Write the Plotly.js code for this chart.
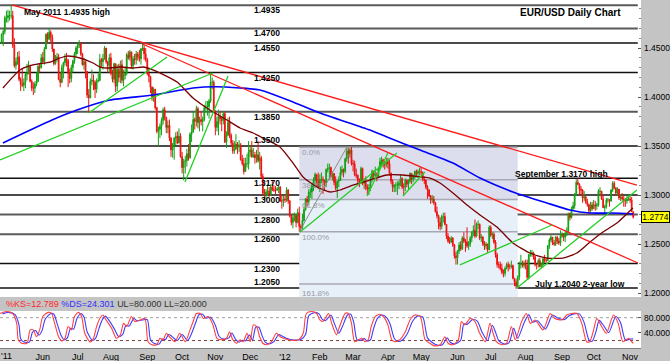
<!DOCTYPE html>
<html><head><meta charset="utf-8">
<script src="https://cdn.plot.ly/plotly-3.0.1.min.js"></script>
<style>html,body{margin:0;padding:0;background:#c4c4c4;overflow:hidden}#chart{width:670px;height:361px}</style>
</head><body><div id="chart"></div>
<script>
// ---- daily EUR/USD candles, Apr 26 2011 .. Nov 5 2012 (weekday index, 0 = May 2 2011); prices in 1/10000
const firstDayIndex = -4;
const firstOpen = 14560;
const closeP = [
14640,14670,14810,14810,
14830,14830,14830,14530,14320,14360,14410,14180,14130,14120,14150,14230,14240,14310,14160,14090,14090,14130,14160,14310,14300,14400,
14360,14490,14640,14590,14660,14610,14490,14340,14390,14410,14180,14150,14300,14350,14390,14370,14240,14190,14300,14370,14440,14500,
14530,14540,14440,14330,14360,14260,14020,13990,14160,14170,14150,14080,14160,14170,14380,14360,14390,14500,14360,14320,14400,
14240,14180,14340,14110,14280,14200,14330,14170,14220,14240,14430,14400,14460,14320,14390,14380,14440,14410,14390,14490,14500,14440,14380,
14240,14210,14100,14000,14080,13890,13650,13670,13700,13760,13870,13790,13690,13710,13580,13460,13500,13580,13600,13530,13600,13390,
13280,13340,13350,13420,13380,13620,13640,13770,13750,13880,13740,13770,13750,13770,13890,13900,13900,13960,14150,14150,13860,
13690,13750,13800,13780,13760,13830,13540,13610,13740,13610,13530,13450,13470,13520,13490,13510,13360,13320,13240,13320,13320,13440,
13460,13390,13410,13380,13410,13350,13380,13190,13020,13000,13030,13040,13010,13080,13050,13050,13050,13060,13080,12940,12940,12960,
12950,13050,12940,12790,12720,12770,12790,12720,12820,12680,12670,12740,12850,12960,12930,13030,13030,13100,13150,13210,13140,13080,
13160,13160,13150,13120,13260,13270,13280,13190,13220,13130,13070,13140,13150,13230,13260,13240,13370,13450,13420,13460,13320,
13320,13210,13200,13140,13140,13270,13120,13140,13080,13060,13070,13170,13240,13200,13210,13190,13270,13340,13360,13310,13310,13340,
13320,13220,13140,13080,13100,13100,13100,13120,13170,13080,13080,13150,13110,13140,13220,13160,13180,13240,13220,13240,13240,
13230,13160,13150,13080,13050,12990,12950,12960,12920,12830,12790,12720,12680,12780,12780,12700,12580,12530,12520,12560,12490,12380,12360,
12430,12490,12450,12560,12530,12520,12480,12500,12560,12620,12640,12580,12700,12700,12560,12570,12500,12480,12500,12440,12670,
12590,12600,12520,12390,12290,12290,12250,12210,12200,12250,12290,12270,12270,12280,12150,12110,12070,12160,12290,12300,12280,12300,
12280,12160,12390,12400,12410,12370,12290,12290,12330,12270,12290,12350,12330,12330,12480,12540,12570,12510,12500,12570,12530,12510,12580,
12600,12570,12610,12630,12810,12770,12860,12890,13010,13130,13110,13060,13050,12970,12980,12930,12900,12840,12900,12860,
12900,12890,12900,13040,13040,12960,12870,12880,12950,12950,12940,13050,13120,13070,13020,13060,12970,12980,12960,12940,12940,12960,12960,
12950,12830,12774];
const highP = [
14650,14690,14830,14880,
14890,14880,14940,14880,14600,14400,14460,14470,14200,14290,14190,14250,14340,14370,14330,14180,14150,14160,14250,14340,14340,14440,
14460,14510,14650,14660,14700,14680,14640,14490,14430,14450,14440,14250,14330,14360,14440,14450,14390,14290,14330,14380,14460,14520,
14540,14580,14560,14450,14400,14370,14230,14080,14190,14280,14230,14170,14190,14240,14440,14400,14440,14520,14500,14370,14440,
14450,14280,14350,14340,14330,14340,14370,14380,14280,14300,14450,14470,14480,14460,14420,14440,14470,14460,14480,14500,14550,14530,14500,
14400,14300,14150,14110,14100,14080,13900,13700,13730,13790,13890,13900,13800,13760,13770,13590,13530,13590,13640,13650,13680,13630,
13440,13370,13400,13470,13520,13640,13720,13850,13790,13910,13900,13800,13850,13800,13920,13960,13960,13980,14250,14200,14170,
13860,13800,13870,13850,13800,13850,13850,13650,13790,13800,13630,13560,13550,13620,13540,13560,13530,13410,13380,13380,13420,13550,
13500,13550,13480,13440,13460,13550,13440,13400,13220,13060,13060,13110,13080,13110,13150,13100,13090,13080,13100,13090,12990,13000,
13010,13080,13060,12950,12800,12810,12820,12800,12860,12880,12700,12810,12880,12970,12990,13060,13070,13120,13180,13230,13210,13230,
13210,13230,13190,13150,13270,13320,13320,13290,13240,13220,13190,13150,13190,13290,13300,13270,13380,13480,13480,13480,13490,
13360,13350,13270,13210,13170,13290,13280,13170,13190,13110,13110,13190,13260,13250,13290,13230,13290,13380,13390,13370,13350,13380,
13380,13360,13230,13160,13110,13130,13140,13150,13210,13180,13120,13170,13160,13160,13230,13220,13210,13250,13260,13260,13280,
13280,13240,13190,13160,13100,13060,13000,13000,12990,12930,12880,12800,12770,12800,12820,12820,12700,12610,12570,12580,12570,12500,12420,
12440,12520,12530,12580,12620,12550,12670,12530,12580,12630,12690,12750,12720,12740,12710,12600,12580,12530,12520,12500,12690,
12690,12620,12620,12540,12410,12320,12320,12300,12240,12270,12310,12320,12300,12330,12290,12150,12140,12180,12320,12390,12330,12330,
12340,12340,12400,12440,12440,12420,12380,12300,12350,12360,12310,12360,12390,12360,12490,12560,12590,12560,12540,12580,12580,12560,12640,
12620,12610,12640,12670,12820,12820,12880,12930,13020,13160,13170,13120,13090,13060,13040,12990,12960,12910,12930,12930,
12950,12940,12920,13060,13080,13040,12990,12900,12970,12970,12960,13060,13140,13140,13080,13080,13060,13010,13020,12990,12970,13000,13000,
12990,12980,12830];
const lowP = [
14540,14520,14640,14760,
14760,14780,14800,14500,14300,14280,14330,14160,14060,14100,14060,14090,14170,14230,14150,14060,14020,14040,14110,14150,14250,14290,
14350,14330,14490,14550,14580,14560,14460,14320,14330,14360,14170,14100,14140,14190,14320,14310,14100,14140,14150,14250,14340,14410,
14440,14500,14420,14320,14280,14190,13990,13840,13990,14120,14070,13990,14040,14150,14160,14300,14280,14380,14340,14250,14250,
14220,14150,14140,14050,14060,14150,14140,14140,14110,14180,14220,14380,14370,14290,14280,14330,14330,14370,14360,14330,14470,14380,14360,
14220,14150,14040,13960,13950,13870,13630,13500,13580,13610,13720,13760,13630,13630,13550,13390,13380,13360,13510,13520,13530,13380,
13220,13150,13220,13290,13350,13370,13540,13640,13670,13700,13680,13650,13710,13650,13750,13860,13810,13780,13940,14080,13850,
13610,13650,13610,13720,13650,13720,13530,13480,13600,13580,13500,13420,13420,13460,13420,13440,13350,13300,13210,13250,13280,13260,
13390,13380,13380,13320,13330,13330,13260,13170,13000,12950,12950,12990,12980,12990,13040,13030,13010,13040,13020,12930,12860,12880,
12920,12930,12910,12770,12690,12660,12730,12670,12710,12624,12630,12650,12730,12840,12880,12900,12970,12960,13040,13070,13080,13060,
13030,13120,13010,13040,13080,13230,13160,13170,13150,13100,13050,12970,13080,13170,13200,13180,13220,13340,13320,13380,13300,
13240,13190,13170,13100,13080,13110,13100,13060,13050,13000,13000,13040,13130,13160,13180,13140,13190,13260,13310,13280,13260,13280,
13270,13200,13110,13030,13030,13030,13000,13060,13090,13060,13000,13040,13080,13060,13120,13110,13130,13160,13180,13170,13200,
13180,13140,13110,13060,12960,12980,12910,12920,12900,12820,12760,12650,12640,12650,12720,12690,12550,12510,12500,12510,12470,12350,12290,
12290,12400,12430,12440,12510,12420,12460,12440,12470,12520,12580,12560,12570,12650,12540,12520,12480,12440,12450,12410,12440,
12570,12550,12500,12360,12260,12250,12230,12190,12160,12170,12240,12220,12240,12250,12140,12070,12042,12050,12130,12250,12260,12250,
12240,12140,12140,12370,12370,12340,12270,12240,12260,12260,12250,12260,12310,12310,12330,12450,12520,12490,12480,12480,12500,12490,12480,
12560,12530,12520,12580,12620,12740,12760,12840,12860,12990,13100,13000,13000,12920,12940,12910,12880,12800,12820,12840,
12860,12840,12850,12880,13010,12950,12870,12800,12860,12920,12880,12930,13030,13060,12990,12990,12950,12940,12940,12880,12880,12910,12940,
12920,12830,12760];

// moving averages: [day index, price]
const ma200 = [[-3.2,1.3531],[27.8,1.3765],[43.6,1.3867],[64.4,1.3969],[91.6,1.4020],[116.9,1.4092],[131,1.4105],[146.6,1.4092],[159.2,1.4071],[180,1.3949],[197.1,1.3837],[228.7,1.3663],[239.4,1.3592],[260.3,1.3459],[281.1,1.3327],[298.2,1.3173],[319,1.3031],[340.5,1.2918],[355,1.2847],[367.7,1.2816],[382.2,1.2816],[394.8,1.2806]];
const ma55 = [[-3.2,1.4092],[7.6,1.4276],[15.8,1.4327],[26.5,1.4357],[32.8,1.4398],[37.3,1.4418],[45.5,1.4398],[53.7,1.4347],[58.1,1.4306],[64.4,1.4296],[70.7,1.4306],[79,1.4296],[85.3,1.4306],[91.6,1.4276],[96,1.4245],[106.8,1.4153],[116.9,1.3990],[127.6,1.3867],[138.3,1.3765],[146.6,1.3684],[154.8,1.3633],[163.6,1.3561],[171.8,1.3490],[180,1.3327],[186.4,1.3184],[195.2,1.3082],[203.4,1.3031],[209.7,1.3051],[217.9,1.3102],[228.7,1.3153],[239.4,1.3204],[249.5,1.3204],[260.3,1.3184],[266.6,1.3173],[272.9,1.3122],[281.1,1.3020],[290,1.2898],[298.2,1.2796],[308.9,1.2673],[319,1.2510],[329.8,1.2408],[340.5,1.2357],[350.6,1.2357],[359.4,1.2408],[367.7,1.2520],[375.9,1.2622],[384.7,1.2714],[394.8,1.2867]];

// horizontal support / resistance levels
const levels = [1.4935,1.4700,1.4550,1.4250,1.3850,1.3500,1.3170,1.3000,1.2800,1.2600,1.2300,1.2050];
const grayLevels = [1.4935,1.4700,1.3850,1.2800,1.2600];
const labelAboveLevels = [1.3500,1.2050];

// trend lines: [[day, price],[day, price]]
const redLines = [[[2.5,1.4939],[397.3,1.3102]], [[85,1.4541],[398,1.2306]]];
const greenLines = [
 [[51,1.3837],[100.5,1.4408]],
 [[-5,1.3357],[129.5,1.4245]],
 [[111.8,1.3133],[139,1.4214]],
 [[184.5,1.2622],[245.7,1.3429]],
 [[226.8,1.2990],[240,1.3429]],
 [[249.5,1.2990],[263.4,1.3235]],
 [[285.5,1.2286],[343.7,1.2694]],
 [[321.5,1.2051],[397.3,1.3051]]
];

// Fibonacci retracement (Jan 2012 low -> Feb 2012 high)
const fibLow = 1.2624, fibHigh = 1.3486, fibStart = 184, fibEnd = 322;
const fibRatios = [0, 0.382, 0.618, 1.0, 1.618];
const fibLabels = ['0.0%','38.2%','61.8%','100.0%','161.8%'];

// slow stochastic: [day, value]
const stochK = [[-5,91],[-1,96],[3,91],[5.5,65],[6.5,22],[8.5,13],[12,13],[14,48],[16,48],[18,30],[20,48],[22,83],[25.5,94],[27.5,91],[29.5,65],[32,30],[34,19],[36,26],[38,57],[40,48],[42,83],[44.5,94],[46.5,83],[48.5,39],[52,16],[54,26],[56,57],[58,78],[60,87],[62,74],[65.5,52],[68.5,26],[71,35],[73,65],[75,57],[78,83],[80,70],[83.5,74],[86.5,78],[88.5,17],[91,9],[94,9],[96,26],[98,22],[100,39],[102,30],[105.5,17],[108.5,39],[112,17],[115,48],[117,70],[119,91],[121.5,91],[123.5,78],[126.5,83],[129.5,61],[132,26],[135,22],[138,26],[140,43],[142,22],[144.5,13],[146.5,22],[148.5,17],[151,39],[153,17],[155,61],[157,57],[159,30],[161,13],[163.5,9],[166.5,17],[169.5,39],[172,30],[174,26],[177,22],[183.5,22],[186.5,39],[188.5,91],[192,96],[195,91],[197,74],[199,70],[202.5,91],[204.5,65],[207.5,35],[209.5,57],[213,91],[215,91],[217,65],[219,17],[221.5,22],[223.5,26],[225.5,17],[227.5,22],[229.5,57],[232,83],[235,89],[238,78],[240,61],[242.5,22],[244.5,17],[247.5,22],[251,43],[254,74],[257,87],[260.5,83],[263.5,22],[266.5,13],[269.5,6],[273,9],[276,30],[278,13],[281,9],[284.5,22],[286.5,70],[288.5,61],[292,78],[295,70],[298,39],[301.5,17],[304.5,65],[306.5,39],[308.5,17],[312,9],[315,13],[318,57],[320.5,22],[324.5,70],[327.5,91],[330,65],[333,74],[338,48],[342.5,91],[345.5,78],[350,74],[353,87],[356,91],[359.5,91],[362.5,65],[365.5,17],[367.5,17],[370,48],[372,78],[375,57],[378,39],[382.5,87],[385.5,65],[388.5,17],[392,26],[394,17],[395,12.8]];
const stochD = [[-3.5,90],[0.5,94],[4.5,88],[7,60],[8,25],[10,16],[13.5,16],[15.5,42],[17.5,46],[19.5,34],[21.5,46],[23.5,76],[27,91],[29,89],[31,65],[33.5,34],[35.5,22],[37.5,27],[39.5,52],[41.5,50],[43.5,77],[46,91],[48,82],[50,43],[53.5,20],[55.5,27],[57.5,52],[59.5,74],[61.5,84],[63.5,75],[67,52],[70,30],[72.5,36],[74.5,60],[76.5,58],[79.5,78],[81.5,72],[85,74],[88,75],[90,22],[92.5,12],[95.5,11],[97.5,24],[99.5,23],[101.5,36],[103.5,31],[107,20],[110,36],[113.5,20],[116.5,44],[118.5,66],[120.5,87],[123,89],[125,79],[128,81],[131,60],[133.5,30],[136.5,24],[139.5,27],[141.5,40],[143.5,25],[146,16],[148,21],[150,19],[152.5,35],[154.5,21],[156.5,55],[158.5,55],[160.5,33],[162.5,16],[165,11],[168,17],[171,36],[173.5,31],[175.5,27],[178.5,23],[185,23],[188,36],[190,85],[193.5,93],[196.5,90],[198.5,76],[200.5,72],[204,87],[206,67],[209,39],[211,54],[214.5,87],[216.5,89],[218.5,66],[220.5,22],[223,21],[225,25],[227,19],[229,22],[231,52],[233.5,79],[236.5,87],[239.5,79],[241.5,62],[244,26],[246,18],[249,21],[252.5,40],[255.5,70],[258.5,84],[262,82],[265,27],[268,15],[271,8],[274.5,9],[277.5,27],[279.5,15],[282.5,11],[286,21],[288,64],[290,62],[293.5,75],[296.5,71],[299.5,42],[303,20],[306,60],[308,42],[310,20],[313.5,11],[316.5,14],[319.5,52],[322,26],[326,66],[329,88],[331.5,68],[334.5,72],[339.5,50],[344,87],[347,80],[351.5,75],[354.5,85],[357.5,90],[361,90],[364,67],[367,22],[369,18],[371.5,44],[373.5,73],[376.5,58],[379.5,41],[384,83],[387,67],[390,22],[393.5,24],[395,24.3]];
const stochKlast = '12.789', stochDlast = '24.301', stochUL = 80, stochLL = 20;

// axis labels
const firstYearLabel = "'11";
const monthTickIdx = [22,44,65,88,110,131,153,175,197,218,240,261,284,305,327,350,370,393];
const monthTickText = ['Jun','Jul','Aug','Sep','Oct','Nov','Dec',"'12",'Feb','Mar','Apr','May','Jun','Jul','Aug','Sep','Oct','Nov'];
const priceTicks = [1.20,1.25,1.30,1.35,1.40,1.45];
const lastPrice = 1.2774;

// ---------------------------------------------------------------
const P = v => v / 10000;
const xIdx = closeP.map((_, k) => firstDayIndex + k);
const openP = closeP.map((c, k) => k === 0 ? firstOpen : closeP[k - 1]);
const FONT = 'Liberation Sans, Arial, sans-serif';

const traces = [
  {type:'candlestick', x:xIdx, open:openP.map(P), high:highP.map(P), low:lowP.map(P), close:closeP.map(P),
   increasing:{line:{color:'#12a012', width:1}, fillcolor:'#12a012'},
   decreasing:{line:{color:'#f01010', width:1}, fillcolor:'#f01010'},
   whiskerwidth:0, hoverinfo:'skip', xaxis:'x', yaxis:'y'},
  {type:'scatter', mode:'lines', x:ma200.map(p=>p[0]), y:ma200.map(p=>p[1]), line:{color:'#0000ff', width:1.6, shape:'spline', smoothing:0.6}, hoverinfo:'skip', xaxis:'x', yaxis:'y'},
  {type:'scatter', mode:'lines', x:ma55.map(p=>p[0]), y:ma55.map(p=>p[1]), line:{color:'#7a0000', width:1.3, shape:'spline', smoothing:0.6}, hoverinfo:'skip', xaxis:'x', yaxis:'y'},
  {type:'scatter', mode:'lines', x:stochD.map(p=>p[0]), y:stochD.map(p=>p[1]), line:{color:'#3c3cff', width:1.1, shape:'spline', smoothing:0.7}, hoverinfo:'skip', xaxis:'x2', yaxis:'y2'},
  {type:'scatter', mode:'lines', x:stochK.map(p=>p[0]), y:stochK.map(p=>p[1]), line:{color:'#ff4040', width:1.1, shape:'spline', smoothing:0.7}, hoverinfo:'skip', xaxis:'x2', yaxis:'y2'}
];

const shapes = [];
const fibLevel = r => fibHigh - r * (fibHigh - fibLow);
// fib zones
shapes.push({type:'rect', layer:'below', xref:'x', yref:'y', x0:fibStart, x1:fibEnd, y0:fibLevel(0.618), y1:fibLevel(0), fillcolor:'#dcdeed', line:{width:0}});
shapes.push({type:'rect', layer:'below', xref:'x', yref:'y', x0:fibStart, x1:fibEnd, y0:1.19, y1:fibLevel(0.618), fillcolor:'#e7eff9', line:{width:0}});
fibRatios.forEach(r => shapes.push({type:'line', layer:'below', xref:'x', yref:'y', x0:fibStart, x1:fibEnd, y0:fibLevel(r), y1:fibLevel(r), line:{color:'#a8a8b4', width:1.5}}));
// S/R levels
levels.forEach(v => shapes.push({type:'line', layer:'below', xref:'x domain', yref:'y', x0:0, x1:0.995, y0:v, y1:v,
  line:{color: grayLevels.includes(v) ? '#5a5a5a' : '#111', width: grayLevels.includes(v) ? 2 : 1.5}}));
// fib anchor diagonal
shapes.push({type:'line', layer:'above', xref:'x', yref:'y', x0:fibStart, y0:fibLow, x1:214, y1:fibHigh, line:{color:'#8a8a8a', width:1}});
// trend lines
redLines.forEach(l => shapes.push({type:'line', layer:'above', xref:'x', yref:'y', x0:l[0][0], y0:l[0][1], x1:l[1][0], y1:l[1][1], line:{color:'#ff1a1a', width:1.3}}));
greenLines.forEach(l => shapes.push({type:'line', layer:'above', xref:'x', yref:'y', x0:l[0][0], y0:l[0][1], x1:l[1][0], y1:l[1][1], line:{color:'#22d022', width:1.3}}));
// stochastic bands
shapes.push({type:'line', layer:'below', xref:'x2 domain', yref:'y2', x0:0, x1:1, y0:stochUL, y1:stochUL, line:{color:'#a0a0a0', width:1, dash:'dot'}});
shapes.push({type:'line', layer:'below', xref:'x2 domain', yref:'y2', x0:0, x1:1, y0:stochLL, y1:stochLL, line:{color:'#804040', width:1, dash:'dot'}});

const annotations = [];
levels.forEach(v => {
  const above = labelAboveLevels.includes(v);
  annotations.push({xref:'x', yref:'y', x:154, y:v, xanchor:'left', yanchor: above ? 'bottom' : 'top', yshift: above ? -1 : 2,
    text:'<b>' + v.toFixed(4) + '</b>', showarrow:false, font:{family:FONT, size:8.5, color:'#000'}});
});
fibRatios.forEach((r, k) => annotations.push({xref:'x', yref:'y', x:fibStart + 0.5, y:fibLevel(r), xanchor:'left', yanchor:'top', yshift: r > 1.5 ? -3 : 1,
  text: fibLabels[k], showarrow:false, font:{family:FONT, size:8, color:'#9a9aa4'}}));
const boldNote = (txt, x, y, anchor, size) => ({xref:'x', yref:'y', x:x, y:y, xanchor:anchor, yanchor:'middle', text:'<b>' + txt + '</b>', showarrow:false, font:{family:FONT, size:size, color:'#000'}});
annotations.push(boldNote('May 2011 1.4935 high', 8.8, 1.4867, 'left', 8.5));
annotations.push(boldNote('EUR/USD Daily Chart', 388.5, 1.4867, 'right', 10));
annotations.push(boldNote('September 1.3170 high', 319, 1.3214, 'left', 8.5));
annotations.push(boldNote('July 1.2040 2-year low', 331.6, 1.2092, 'left', 8.5));
// right-hand price labels (drawn as annotations so they start right at the panel edge)
priceTicks.forEach(v => annotations.push({xref:'paper', yref:'y', x:1, xshift:1, y:v, xanchor:'left', yanchor:'middle', showarrow:false,
  text:v.toFixed(4), font:{family:FONT, size:8.5, color:'#000'}}));
[40, 80].forEach(v => annotations.push({xref:'paper', yref:'y2', x:1, xshift:1, y:v, xanchor:'left', yanchor:'middle', showarrow:false,
  text:v.toFixed(3), font:{family:FONT, size:8.5, color:'#000'}}));
// first year label at the left edge of the time axis
annotations.push({xref:'paper', yref:'paper', x:0, xshift:-1, y:-0.004, xanchor:'left', yanchor:'top', showarrow:false,
  text:firstYearLabel, font:{family:FONT, size:9, color:'#000'}});
// last price box
annotations.push({xref:'paper', yref:'y', x:1, y:lastPrice, xanchor:'left', yanchor:'middle', text:lastPrice.toFixed(4), showarrow:false,
  bgcolor:'#ffff00', bordercolor:'#000', borderwidth:1, borderpad:0, width:27, font:{family:FONT, size:8.5, color:'#000'}});
// stochastic header strip
annotations.push({xref:'paper', yref:'paper', x:0.006, y:(348-304)/348, xanchor:'left', yanchor:'middle', showarrow:false,
  text:'<span style="color:#ff2a2a">%KS=' + stochKlast + '</span> <span style="color:#3030ff">%DS=' + stochDlast + '</span> <span style="color:#333">UL=' + stochUL.toFixed(3) + ' LL=' + stochLL.toFixed(3) + '</span>',
  font:{family:FONT, size:9}});

const xr = [-5.05, 399.9];
const layout = {
  width:670, height:361,
  margin:{l:0, r:29, t:0, b:13, pad:0},
  paper_bgcolor:'#c4c4c4', plot_bgcolor:'#ffffff',
  showlegend:false,
  font:{family:FONT, size:9, color:'#000'},
  xaxis:{domain:[0,1], range:xr, anchor:'y', showticklabels:false, showgrid:false, zeroline:false, ticks:'', rangeslider:{visible:false}, fixedrange:true},
  yaxis:{domain:[51/348,1], range:[1.19592,1.49898], anchor:'x', side:'right', showticklabels:false, showgrid:false, zeroline:false,
         ticks:'inside', ticklen:3, tickcolor:'#555', tickvals:priceTicks,
         minor:{ticks:'inside', ticklen:2, dtick:0.01, tickcolor:'#888'}, fixedrange:true},
  xaxis2:{domain:[0,1], range:xr, anchor:'y2', tickvals:monthTickIdx, ticktext:monthTickText, ticks:'', showgrid:false, zeroline:false,
          tickfont:{family:FONT, size:9, color:'#000'}, showline:true, linecolor:'#808080', linewidth:1, fixedrange:true},
  yaxis2:{domain:[0,37/348], range:[0.5,97.5], anchor:'x2', side:'right', showticklabels:false, tickvals:[40,80],
          showgrid:false, zeroline:false, ticks:'inside', ticklen:3, tickcolor:'#555', fixedrange:true},
  shapes:shapes, annotations:annotations
};
Plotly.newPlot('chart', traces, layout, {staticPlot:true, displayModeBar:false});
</script></body></html>
